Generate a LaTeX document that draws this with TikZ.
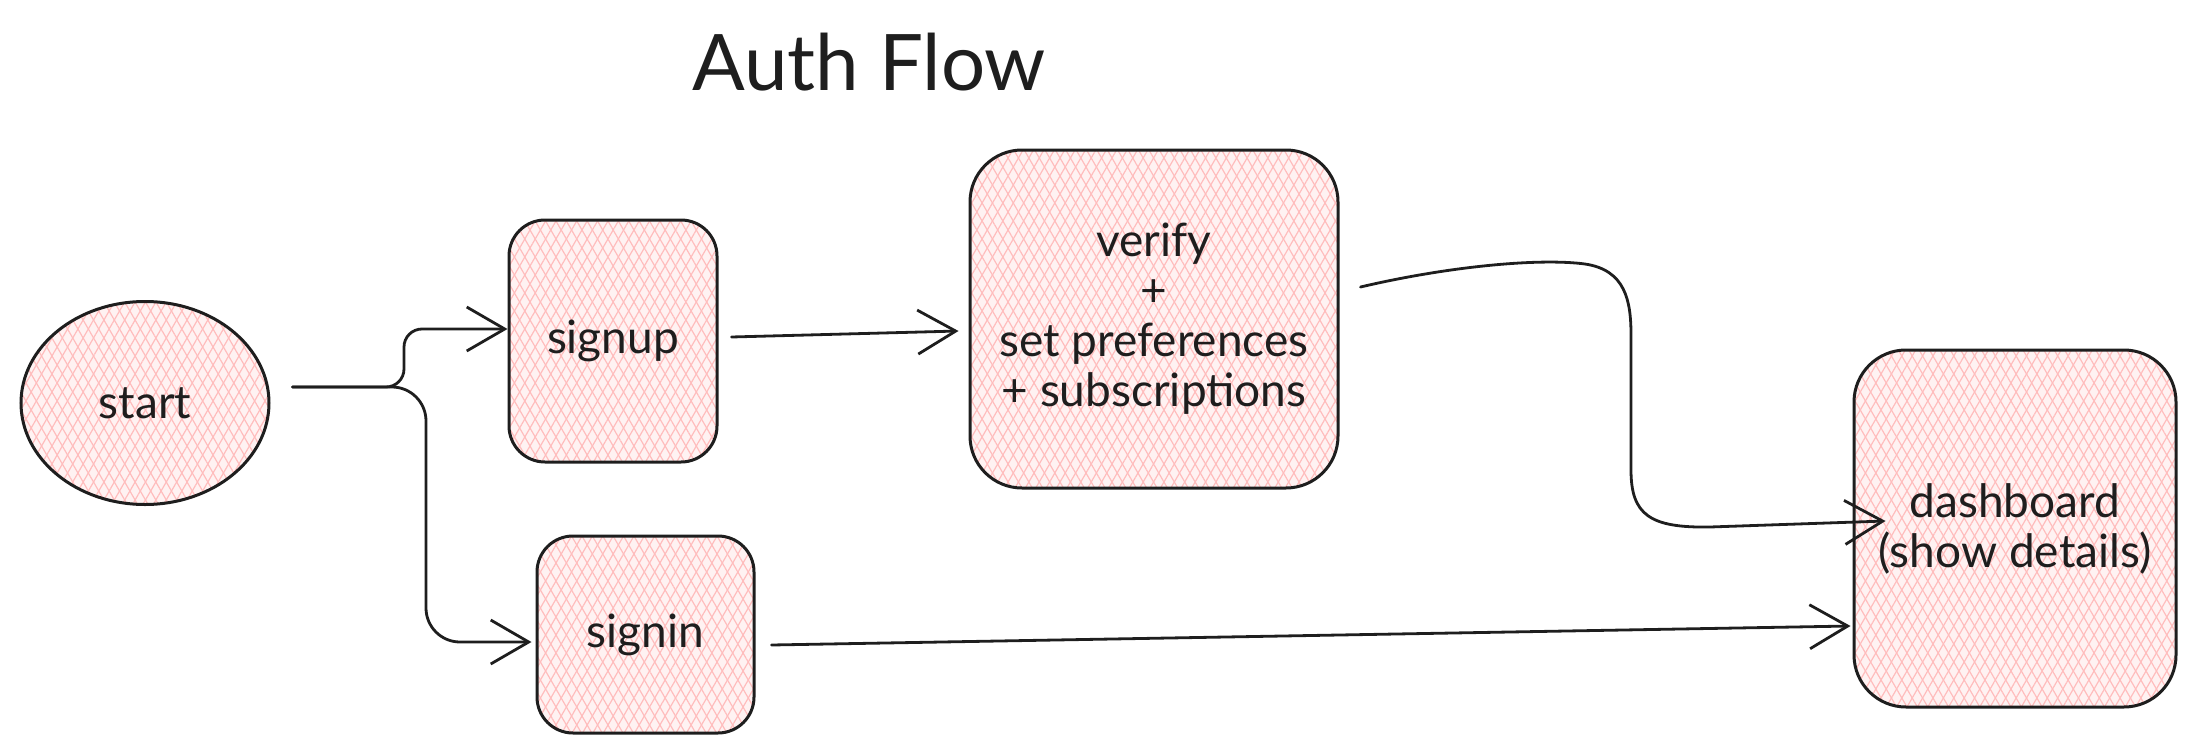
\documentclass[tikz,border=0pt]{standalone}
\usepackage{fontspec}
\setmainfont{Lato}
\usetikzlibrary{shapes.geometric, arrows.meta, patterns.meta, calc}
\definecolor{ink}{HTML}{1E1E1E}
\definecolor{hatch}{HTML}{FFBDBD}
\definecolor{tint}{HTML}{FFF2F2}
\tikzset{
  hatched/.style={
    preaction={fill=tint},
    preaction={pattern={Lines[angle=60,distance=9pt,line width=1.2pt]}, pattern color=hatch},
    preaction={pattern={Lines[angle=-60,distance=9pt,line width=1.2pt]}, pattern color=hatch},
    draw=ink, line width=3pt},
  stepbox/.style={hatched, rectangle, align=center, text=ink, inner sep=0pt,
    font=\fontsize{46}{50}\selectfont},
  startnode/.style={hatched, ellipse, inner sep=0pt, text=ink,
    minimum width=248pt, minimum height=203pt, font=\fontsize{46}{50}\selectfont},
  titletext/.style={text=ink, inner sep=0pt, font=\fontsize{78}{90}\selectfont},
  conn/.style={draw=ink, line width=2.8pt, line cap=round, line join=round,
    -{Straight Barb[length=38pt, width=44pt, line width=2.8pt]}}
}
\begin{document}
\begin{tikzpicture}[x=1pt,y=-1pt]
\useasboundingbox (0,0) rectangle (2197,752);
\node[titletext] (title) at (869,62) {Auth Flow};
\node[startnode] (start) at (145,403) {start};
\node[stepbox, minimum width=208pt, minimum height=242pt, rounded corners=36pt] (signup) at (613,341) {signup};
\node[stepbox, minimum width=217pt, minimum height=197pt, rounded corners=36pt] (signin) at (645.5,634.5) {signin};
\node[stepbox, minimum width=368pt, minimum height=338pt, rounded corners=52pt] (verify) at (1154,319) {verify\\+\\set preferences\\+ subscriptions};
\node[stepbox, minimum width=322pt, minimum height=357pt, rounded corners=52pt] (dash) at (2015,528.5) {dashboard\\(show details)};
\coordinate (s0) at ($(start.east)+(22,-16)$);
\draw[conn, rounded corners=18pt] (s0) -- (404,387) -- (404,329) -- ($(signup.west)+(0,-12)$);
\draw[conn, rounded corners=34pt] (s0) -- (426,387) -- (426,642) -- ($(signin.west)+(-4,7.5)$);
\draw[conn] ($(signup.east)+(13,-4)$) -- ($(verify.west)+(-10,12)$);
\draw[conn] ($(verify.east)+(21,-32)$) .. controls (1450,266) and (1540,258) .. (1585,264)
  .. controls (1625,270) and (1631,300) .. (1631,335) -- (1631,470)
  .. controls (1631,515) and (1650,528) .. (1710,527) -- ($(dash.west)+(33,-7.5)$);
\draw[conn] ($(signin.east)+(16,10.5)$) -- ($(dash.west)+(-2,97.5)$);
\end{tikzpicture}
\end{document}
